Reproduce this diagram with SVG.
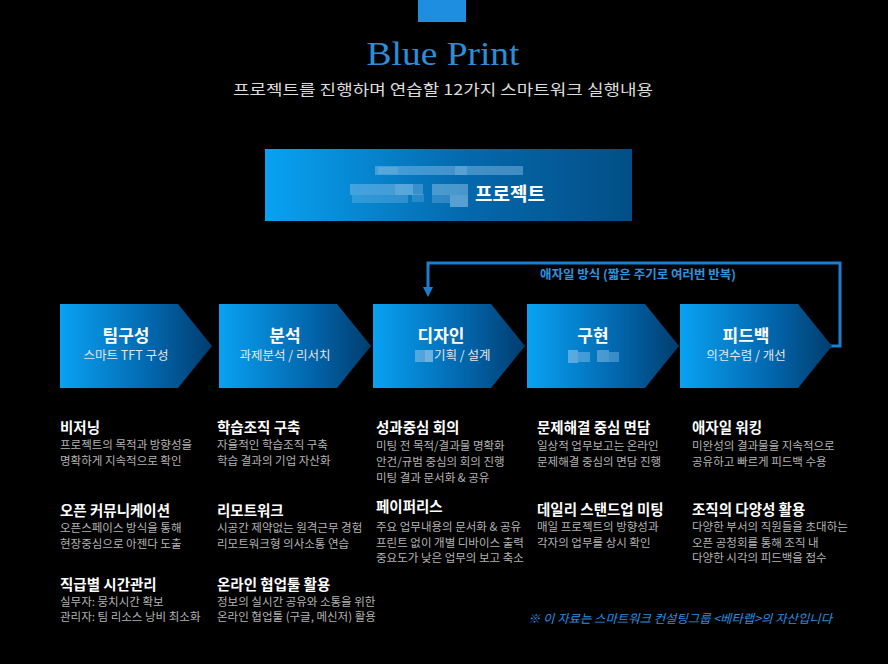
<svg xmlns="http://www.w3.org/2000/svg" width="888" height="664" viewBox="0 0 888 664">
<defs>
<linearGradient id="gChev" x1="0" y1="0" x2="1" y2="0">
<stop offset="0" stop-color="#09a2f3"/>
<stop offset="0.6" stop-color="#0266ad"/>
<stop offset="1" stop-color="#013d6e"/>
</linearGradient>
<linearGradient id="gBox" x1="0" y1="0" x2="1" y2="0">
<stop offset="0" stop-color="#08a2f2"/>
<stop offset="0.55" stop-color="#0568ac"/>
<stop offset="1" stop-color="#024f86"/>
</linearGradient>
<marker id="ah" markerWidth="10" markerHeight="10" refX="5" refY="5" orient="auto" markerUnits="userSpaceOnUse" viewBox="0 0 10 10">
<path d="M0,0 L10,5 L0,10 Z" fill="#1a7fcc"/>
</marker>
</defs>
<style>
.ko{font-family:"Noto Sans CJK KR","Noto Sans",sans-serif}
.ct{font-size:17px;font-weight:bold;fill:#ffffff;text-anchor:middle}
.cs{font-size:12.5px;fill:#e6e6e6;text-anchor:middle}
.ht{font-size:14.5px;font-weight:bold;fill:#ffffff}
.bt{font-size:11.5px;fill:#b4b4b4}
.blur{fill:#8fc3ea}
</style>
<rect x="0" y="0" width="888" height="664" fill="#000000"/>
<rect x="418" y="0" width="48" height="22" fill="#1e8fe0"/>
<text x="443" y="65" text-anchor="middle" font-family="Liberation Serif, serif" font-size="34" fill="#2a8fd8" textLength="153" lengthAdjust="spacingAndGlyphs">Blue Print</text>
<text x="443" y="95" text-anchor="middle" class="ko" font-size="15" fill="#dcdcdc" textLength="420" lengthAdjust="spacingAndGlyphs">프로젝트를 진행하며 연습할 12가지 스마트워크 실행내용</text>

<g id="project">
<rect x="265" y="149" width="367" height="72" fill="url(#gBox)"/>
<g class="blur">
<rect x="375" y="166" width="148" height="9" opacity="0.45"/>
<rect x="378" y="167" width="20" height="7" opacity="0.25"/>
<rect x="455" y="166" width="12" height="9" opacity="0.3"/>
<rect x="350" y="184" width="45" height="11" opacity="0.45"/>
<rect x="395" y="184" width="18" height="11" opacity="0.6"/>
<rect x="413" y="184" width="10" height="11" opacity="0.35"/>
<rect x="352" y="195" width="56" height="8" opacity="0.3"/>
<rect x="412" y="194" width="12" height="8" opacity="0.25"/>
<rect x="432" y="184" width="36" height="11" opacity="0.5"/>
<rect x="450" y="195" width="18" height="12" opacity="0.6"/>
<rect x="432" y="195" width="18" height="8" opacity="0.3"/>
</g>
<text x="475" y="201" class="ko" font-size="19" font-weight="bold" fill="#ffffff">프로젝트</text>
</g>

<g id="connectors">
<path d="M826,346 H840 V263 H428 V292" fill="none" stroke="#1a7fcc" stroke-width="3" marker-end="url(#ah)"/>
<text x="638" y="279" text-anchor="middle" class="ko" font-size="12.5" font-weight="bold" fill="#2a95e0">애자일 방식 (짧은 주기로 여러번 반복)</text>
</g>

<g id="step1">
<path d="M60,304 H178 L212,346 L178,388 H60 Z" fill="url(#gChev)"/>
<text x="126" y="342" class="ko ct">팀구성</text>
<text x="126" y="360" class="ko cs">스마트 TFT 구성</text>
</g>
<g id="step2">
<path d="M219,304 H337 L371,346 L337,388 H219 Z" fill="url(#gChev)"/>
<text x="285" y="342" class="ko ct">분석</text>
<text x="285" y="360" class="ko cs">과제분석 / 리서치</text>
</g>
<g id="step3">
<path d="M373,304 H491 L525,346 L491,388 H373 Z" fill="url(#gChev)"/>
<text x="441" y="342" class="ko ct">디자인</text>
<g class="blur"><rect x="415" y="350" width="10" height="12" opacity="0.55"/><rect x="425" y="350" width="8" height="12" opacity="0.75"/></g>
<text x="434" y="360" class="ko cs" style="text-anchor:start">기획 / 설계</text>
</g>
<g id="step4">
<path d="M527,304 H645 L679,346 L645,388 H527 Z" fill="url(#gChev)"/>
<text x="593" y="342" class="ko ct">구현</text>
<g class="blur"><rect x="568" y="350" width="10" height="13" opacity="0.6"/><rect x="578" y="352" width="12" height="10" opacity="0.45"/><rect x="597" y="350" width="12" height="12" opacity="0.5"/><rect x="609" y="352" width="10" height="10" opacity="0.4"/></g>
</g>
<g id="step5">
<path d="M680,304 H798 L832,346 L798,388 H680 Z" fill="url(#gChev)"/>
<text x="746" y="342" class="ko ct">피드백</text>
<text x="746" y="360" class="ko cs">의견수렴 / 개선</text>
</g>

<g id="col1" class="ko">
<text x="60" y="433" class="ht">비저닝</text>
<text x="60" y="449" class="bt">프로젝트의 목적과 방향성을</text>
<text x="60" y="465" class="bt">명확하게 지속적으로 확인</text>
<text x="60" y="516" class="ht">오픈 커뮤니케이션</text>
<text x="60" y="532" class="bt">오픈스페이스 방식을 통해</text>
<text x="60" y="548" class="bt">현장중심으로 아젠다 도출</text>
<text x="60" y="590" class="ht">직급별 시간관리</text>
<text x="60" y="606" class="bt">실무자: 뭉치시간 확보</text>
<text x="60" y="621" class="bt">관리자: 팀 리소스 낭비 최소화</text>
</g>
<g id="col2" class="ko">
<text x="217" y="433" class="ht">학습조직 구축</text>
<text x="217" y="449" class="bt">자율적인 학습조직 구축</text>
<text x="217" y="465" class="bt">학습 결과의 기업 자산화</text>
<text x="217" y="516" class="ht">리모트워크</text>
<text x="217" y="532" class="bt">시공간 제약없는 원격근무 경험</text>
<text x="217" y="548" class="bt">리모트워크형 의사소통 연습</text>
<text x="217" y="590" class="ht">온라인 협업툴 활용</text>
<text x="217" y="606" class="bt">정보의 실시간 공유와 소통을 위한</text>
<text x="217" y="621" class="bt">온라인 협업툴 (구글, 메신저) 활용</text>
</g>
<g id="col3" class="ko">
<text x="376" y="433" class="ht">성과중심 회의</text>
<text x="376" y="450" class="bt">미팅 전 목적/결과물 명확화</text>
<text x="376" y="466" class="bt">안건/규범 중심의 회의 진행</text>
<text x="376" y="482" class="bt">미팅 결과 문서화 &amp; 공유</text>
<text x="376" y="512" class="ht">페이퍼리스</text>
<text x="376" y="531" class="bt">주요 업무내용의 문서화 &amp; 공유</text>
<text x="376" y="547" class="bt">프린트 없이 개별 디바이스 출력</text>
<text x="376" y="562" class="bt">중요도가 낮은 업무의 보고 축소</text>
</g>
<g id="col4" class="ko">
<text x="537" y="433" class="ht">문제해결 중심 면담</text>
<text x="537" y="450" class="bt">일상적 업무보고는 온라인</text>
<text x="537" y="466" class="bt">문제해결 중심의 면담 진행</text>
<text x="537" y="515" class="ht">데일리 스탠드업 미팅</text>
<text x="537" y="531" class="bt">매일 프로젝트의 방향성과</text>
<text x="537" y="547" class="bt">각자의 업무를 상시 확인</text>
</g>
<g id="col5" class="ko">
<text x="692" y="433" class="ht">애자일 워킹</text>
<text x="692" y="450" class="bt">미완성의 결과물을 지속적으로</text>
<text x="692" y="466" class="bt">공유하고 빠르게 피드백 수용</text>
<text x="692" y="515" class="ht">조직의 다양성 활용</text>
<text x="692" y="531" class="bt">다양한 부서의 직원들을 초대하는</text>
<text x="692" y="547" class="bt">오픈 공청회를 통해 조직 내</text>
<text x="692" y="562" class="bt">다양한 시각의 피드백을 접수</text>
</g>
<text x="528" y="623" class="ko" font-size="12" font-style="italic" fill="#2a90e0" textLength="304" lengthAdjust="spacingAndGlyphs">※ 이 자료는 스마트워크 컨설팅그룹 &lt;베타랩&gt;의 자산입니다</text>
</svg>
